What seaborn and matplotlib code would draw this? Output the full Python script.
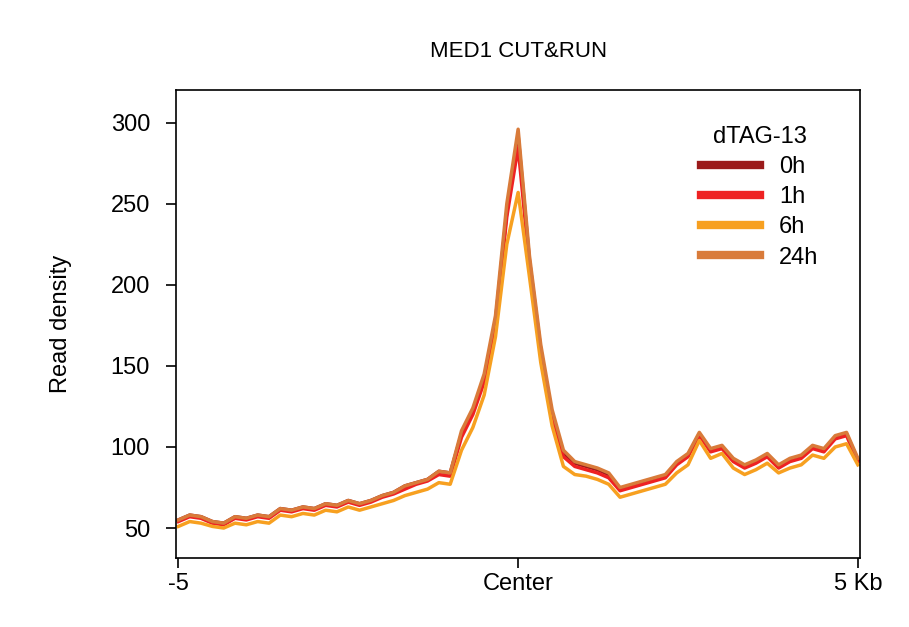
import numpy as np
import pandas as pd
import seaborn as sns
import matplotlib
matplotlib.use("Agg")
import matplotlib.pyplot as plt

plt.rcParams["font.family"] = "Liberation Sans"

positions = [-5 + i / 6 for i in range(61)]
h0 = [55,58,57,54,53,57,56,58,57,62,61,63,62,65,64,67,65,67,70,72,76,78,80,85,84,108,122,142,178,245,292,215,160,120,96,90,88,86,83,74,76,78,80,82,90,95,108,98,100,92,88,91,95,88,92,94,100,98,106,108,92]
h1 = [54,57,56,53,52,56,55,57,56,61,60,62,61,64,63,66,64,66,69,71,74,77,79,83,82,106,120,140,176,242,285,212,158,118,94,88,86,84,81,73,75,77,79,81,89,94,107,97,99,91,87,90,94,87,91,93,99,97,105,107,91]
h6 = [51,54,53,51,50,53,52,54,53,58,57,59,58,61,60,63,61,63,65,67,70,72,74,78,77,98,112,132,168,225,257,205,152,113,88,83,82,80,77,69,71,73,75,77,84,89,104,93,96,87,83,86,90,84,87,89,95,93,100,102,89]
h24 = [55,58,57,54,53,57,56,58,57,62,61,63,62,65,64,67,65,67,70,72,76,78,80,85,84,110,124,145,181,250,296,218,163,123,98,91,89,87,84,75,77,79,81,83,91,96,109,99,101,93,89,92,96,89,93,95,101,99,107,109,93]
labels = ["0h", "1h", "6h", "24h"]
colors = ["#9B1B1B", "#EE2222", "#F7A020", "#D97B3A"]

df = pd.concat([pd.DataFrame({"pos": positions, "density": v, "dTAG-13": l})
                for v, l in zip([h0, h1, h6, h24], labels)])

fig = plt.figure(figsize=(9.09, 6.27), dpi=100)
ax = fig.add_axes([0.194, 0.110, 0.752, 0.746])
sns.lineplot(data=df, x="pos", y="density", hue="dTAG-13", hue_order=labels,
             palette=colors, linewidth=2.5, ax=ax)
ax.set_xlim(-5.03, 5.03)
ax.set_ylim(31.5, 320)
ax.set_yticks([50, 100, 150, 200, 250, 300])
ax.set_xticks([-5, 0, 5])
ax.set_xticklabels(["-5", "Center", "5 Kb"])
ax.tick_params(labelsize=17, width=1.2, length=7)
ax.tick_params(axis="y", pad=12)
ax.set_xlabel("")
ax.set_ylabel("Read density", fontsize=17, labelpad=28)
ax.set_title("MED1 CUT&RUN", fontsize=16, pad=24)
for s in ax.spines.values():
    s.set_linewidth(1.2)
leg = ax.legend(title="dTAG-13", frameon=False, fontsize=17, title_fontsize=17,
                loc="upper right", bbox_to_anchor=(0.97, 0.97), handlelength=2.5,
                labelspacing=0.35)
for line in leg.get_lines():
    line.set_linewidth(6)
fig.savefig("out.png", dpi=100)
